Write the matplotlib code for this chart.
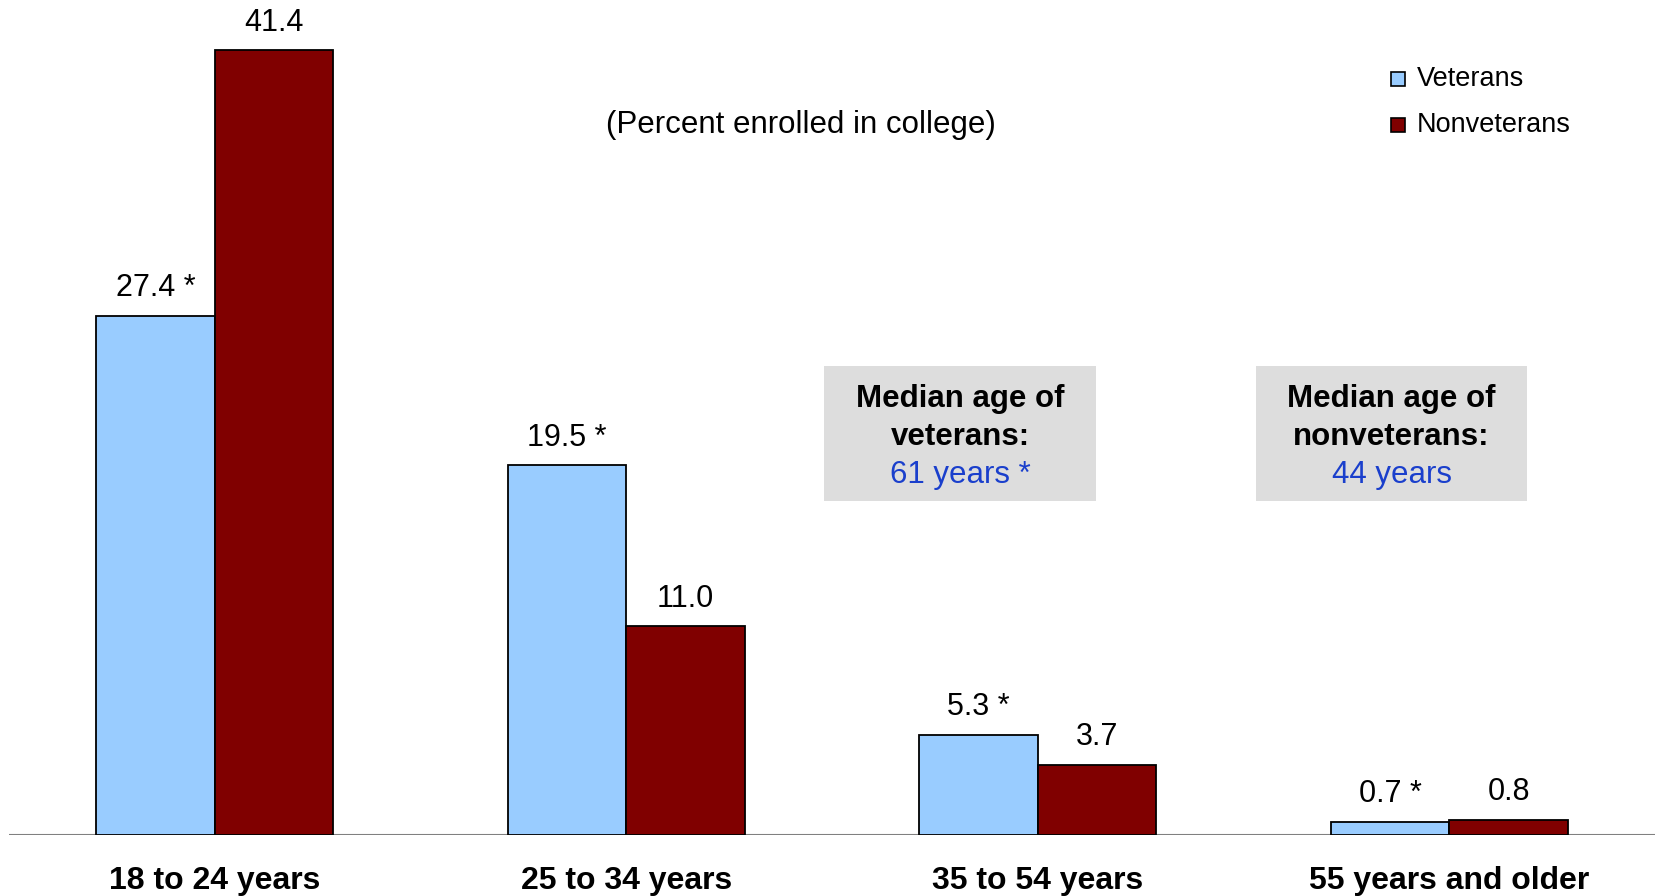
import matplotlib.pyplot as plt
from matplotlib.patches import Rectangle
import numpy as np

plt.rcParams['font.family'] = ['Liberation Sans', 'DejaVu Sans']

# data
age_groups = ['18 to 24 years', '25 to 34 years', '35 to 54 years', '55 years and older']
veterans = [27.4, 19.5, 5.3, 0.7]
nonveterans = [41.4, 11.0, 3.7, 0.8]
vet_labels = ['27.4 *', '19.5 *', '5.3 *', '0.7 *']
nonvet_labels = ['41.4', '11.0', '3.7', '0.8']

W, H = 1655, 896
fig = plt.figure(figsize=(W / 100, H / 100), dpi=100)
ax = fig.add_axes([9 / W, 61 / H, 1 - 9 / W, 1 - 61 / H])

x = np.arange(len(age_groups))
bw = 0.288
light_blue = '#99CCFF'
dark_red = '#800000'

ax.axhline(0, color='#808080', lw=1.5, zorder=1)
b1 = ax.bar(x - bw / 2, veterans, bw, color=light_blue, edgecolor='black', lw=1.3, zorder=2, label='Veterans')
b2 = ax.bar(x + bw / 2, nonveterans, bw, color=dark_red, edgecolor='black', lw=1.3, zorder=2, label='Nonveterans')

for rect, txt in zip(list(b1) + list(b2), vet_labels + nonvet_labels):
    ax.annotate(txt, (rect.get_x() + rect.get_width() / 2, rect.get_height()),
                xytext=(0, 14), textcoords='offset points', ha='center', va='baseline',
                fontsize=22)

ax.set_xlim(-0.5, 3.5)
ax.set_ylim(0, 44.05)
for s in ax.spines.values():
    s.set_visible(False)
ax.set_yticks([])
ax.set_xticks([])

for xi, lab in zip(x, age_groups):
    fig.text((215 + xi * 411.3) / W, 1 - 881 / H, lab, ha='center', va='center',
             fontsize=23, fontweight='bold')

fig.text(801 / W, 1 - 125 / H, '(Percent enrolled in college)', ha='center', va='center', fontsize=22.5)

# median age boxes
blue_txt = '#1a3fcc'
boxes = [(824, 1096, 'Median age of', 'veterans:', '61 years *'),
         (1256, 1527, 'Median age of', 'nonveterans:', '44 years')]
for x0, x1, l1, l2, l3 in boxes:
    fig.patches.append(Rectangle((x0 / W, 1 - 501 / H), (x1 - x0) / W, 135 / H,
                                 transform=fig.transFigure, facecolor='#DDDDDD', edgecolor='none'))
    cx = (x0 + x1) / 2 / W
    fig.text(cx, 1 - 399 / H, l1, ha='center', va='center', fontsize=22.5, fontweight='bold')
    fig.text(cx, 1 - 437 / H, l2, ha='center', va='center', fontsize=22.5, fontweight='bold')
    fig.text(cx, 1 - 475 / H, l3, ha='center', va='center', fontsize=22.5, color=blue_txt)

# legend
for yy, col, name in [(79, light_blue, 'Veterans'), (125, dark_red, 'Nonveterans')]:
    fig.patches.append(Rectangle((1391 / W, 1 - (yy + 7) / H), 14 / W, 14 / H,
                                 transform=fig.transFigure, facecolor=col, edgecolor='black', lw=1.2))
    fig.text(1417 / W, 1 - yy / H, name, ha='left', va='center', fontsize=19.5)

fig.savefig('out.png', dpi=100)
